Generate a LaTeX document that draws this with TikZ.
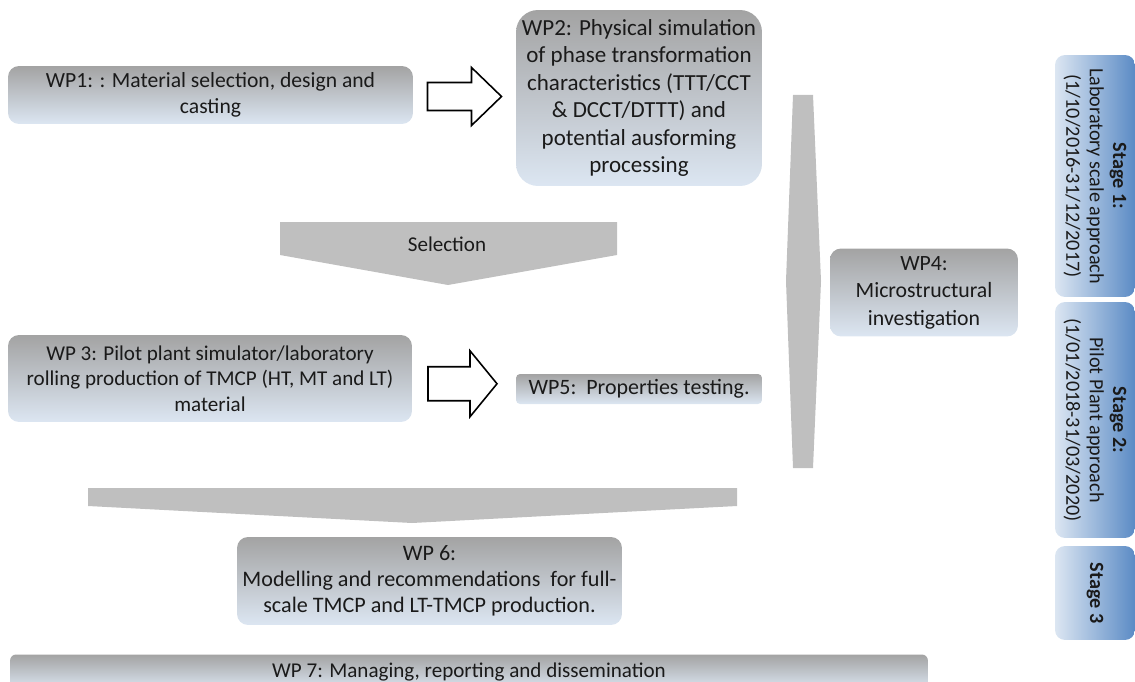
\documentclass[tikz,border=0pt]{standalone}
\usepackage{fontspec}
\setmainfont{Carlito}
\usetikzlibrary{calc,positioning}

\definecolor{wpgrey}{HTML}{A3A3A3}
\definecolor{wplight}{HTML}{DCE6F2}
\definecolor{stageblue}{HTML}{5B8BC5}
\definecolor{bargrey}{HTML}{BFBFBF}
\definecolor{txt}{HTML}{1A1A1A}

\tikzset{
  wpbox/.style={rounded corners=#1, top color=wpgrey, bottom color=wplight,
    text=txt, align=center, inner sep=0pt},
  wpbox/.default=0.22cm,
  stagebox/.style={rotate=-90, rounded corners=0.2cm, left color=wplight,
    right color=stageblue, text=txt, align=center, inner sep=0pt,
    font=\fontsize{11.5}{13.3}\selectfont},
  blockarrow/.style={draw=black, fill=white, line width=0.9pt},
  greyshape/.style={fill=bargrey, draw=none},
}

\begin{document}
\begin{tikzpicture}[x=0.02cm, y=-0.02cm]
\useasboundingbox (0,0) rectangle (1135,682);
\clip (0,0) rectangle (1135,682);
% work package boxes
\node[wpbox, minimum width=8.1cm, minimum height=1.16cm,
  font=\fontsize{12.3}{14.7}\selectfont] (wp1) at (210.5,95)
  {WP1: : Material selection, design and\\casting};
\node[wpbox=0.44cm, minimum width=4.92cm, minimum height=3.52cm,
  font=\fontsize{13.1}{15.6}\selectfont] (wp2) at (639,98)
  {WP2: Physical simulation\\of phase transformation\\characteristics (TTT/CCT\\\& DCCT/DTTT) and\\potential ausforming\\processing};
\node[wpbox, minimum width=8.08cm, minimum height=1.74cm,
  font=\fontsize{12}{14.5}\selectfont] (wp3) at (210,378.5)
  {WP 3: Pilot plant simulator/laboratory\\rolling production of TMCP (HT, MT and LT)\\material};
\node[wpbox=0.08cm, minimum width=4.92cm, minimum height=0.6cm,
  font=\fontsize{12.5}{14.5}\selectfont] (wp5) at (639,389)
  {WP5:\ \ Properties testing.};
\node[wpbox, minimum width=3.76cm, minimum height=1.76cm,
  font=\fontsize{12.4}{15.6}\selectfont] (wp4) at (924,292.5)
  {WP4:\\Microstructural\\investigation};
\node[wpbox, minimum width=7.7cm, minimum height=1.76cm,
  font=\fontsize{12.6}{14.7}\selectfont] (wp6) at (429.5,581)
  {WP 6:\\Modelling and recommendations\ \ for full-\\scale TMCP and LT-TMCP production.};
\node[wpbox=0.12cm, minimum width=18.36cm, minimum height=0.7cm,
  font=\fontsize{12}{14.5}\selectfont] (wp7) at (469,672)
  {WP 7: Managing, reporting and dissemination};

% hollow arrows between the boxes
\coordinate (a1) at ($(wp1.east)!0.5!(wp2.west)$);
\draw[blockarrow] (a1) ++(-37,-14) -- ++(44,0) -- ++(0,-15) -- ++(30,29)
  -- ++(-30,29) -- ++(0,-15) -- ++(-44,0) -- cycle;
\coordinate (a2) at ($(wp3.east)!0.5!(wp5.west)$);
\draw[blockarrow] (a2) ++(-36,-17) -- ++(42,0) -- ++(0,-16) -- ++(27,33)
  -- ++(-27,33) -- ++(0,-16) -- ++(-42,0) -- cycle;

% grey chevrons
\draw[greyshape] (280,222) -- (617,222) -- (617,255) -- (448,285) -- (280,255) -- cycle;
\node[text=txt, font=\fontsize{12}{14}\selectfont] (sel) at (447,244) {Selection};
\draw[greyshape] (88,488) -- (737,488) -- (737,506) -- (412,523) -- (88,506) -- cycle;
\draw[greyshape] (793,95) -- (813,95) -- (821,281) -- (813,468) -- (793,468) -- (786,281) -- cycle;

% stages
\node[stagebox, minimum width=4.84cm, minimum height=1.6cm] (st1) at (1095,176)
  {\textbf{Stage 1:}\\Laboratory scale approach\\(1/10/2016-31/12/2017)};
\node[stagebox, minimum width=4.72cm, minimum height=1.6cm] (st2) at (1095,420)
  {\textbf{Stage 2:}\\Pilot Plant approach\\(1/01/2018-31/03/2020)};
\node[stagebox, minimum width=1.88cm, minimum height=1.6cm] (st3) at (1095,593)
  {\textbf{Stage 3}};
\end{tikzpicture}
\end{document}
